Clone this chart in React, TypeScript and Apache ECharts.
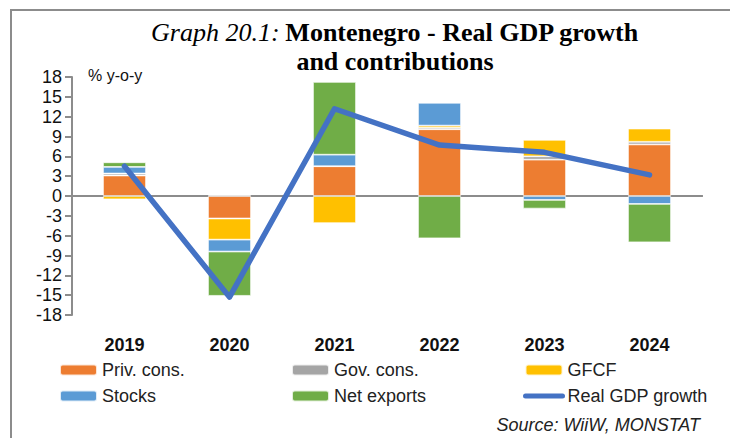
import React, { useEffect, useRef } from "react";
import * as echarts from "echarts";

const years = ["2019", "2020", "2021", "2022", "2023", "2024"];
const yTicks = { min: -18, max: 18, interval: 3 };
const privCons = [3.1, -3.4, 4.5, 10.1, 5.5, 7.8];
const govCons = [0.3, 0.1, 0.0, 0.25, 0.5, 0.4];
const gfcf = [-0.5, -3.2, -4.1, 0.3, 2.5, 2.0];
const stocks = [1.0, -1.8, 1.75, 3.45, -0.6, -1.2];
const netExports = [0.7, -6.7, 11.0, -6.4, -1.3, -5.8];
const gdpGrowth = [4.5, -15.3, 13.2, 7.7, 6.6, 3.2];

const FONT = "'Liberation Sans', Arial, sans-serif";
const SERIF = "'Liberation Serif', 'Times New Roman', serif";
const AXIS_GRAY = "#8c8c8c";

export default function App() {
  const ref = useRef<HTMLDivElement>(null);
  useEffect(() => {
    document.body.style.margin = "0";
    if (!ref.current) return;
    const chart = echarts.init(ref.current, undefined, { renderer: "svg" });
    const barBase = (name: string, data: number[], color: string) => ({
      name,
      type: "bar",
      stack: "c",
      data,
      barWidth: 43,
      itemStyle: { color, borderColor: "rgba(255,255,255,0.8)", borderWidth: 0.8 },
    });
    const legendCommon = {
      orient: "vertical",
      itemWidth: 37,
      itemHeight: 11,
      itemGap: 8,
      selectedMode: false,
      textStyle: { fontFamily: FONT, fontSize: 18, color: "#222" },
      top: 356,
    };
    chart.setOption({
      animation: false,
      backgroundColor: "#fff",
      title: {
        left: 390,
        top: 13,
        textAlign: "center",
        text: "{i|Graph 20.1:} {b|Montenegro - Real GDP growth}\n{b|and contributions}",
        textStyle: {
          rich: {
            i: { fontFamily: SERIF, fontStyle: "italic", fontWeight: "normal", fontSize: 26, color: "#000", lineHeight: 29 },
            b: { fontFamily: SERIF, fontWeight: "bold", fontSize: 26, color: "#000", lineHeight: 29 },
          },
        },
      },
      grid: { left: 72, right: 28, top: 77, bottom: 123, outerBoundsMode: "none", containLabel: false },
      legend: [
        { ...legendCommon, left: 54, data: ["Priv. cons.", "Stocks"] },
        { ...legendCommon, left: 286, data: ["Gov. cons.", "Net exports"] },
        {
          ...legendCommon,
          left: 518,
          data: [
            "GFCF",
            {
              name: "Real GDP growth",
              itemStyle: { opacity: 0 },
              lineStyle: { width: 5, cap: "round", color: "#4472C4" },
            },
          ],
        },
      ],
      xAxis: [
        {
          type: "category",
          data: years,
          position: "bottom",
          axisLine: { onZero: true, onZeroAxisIndex: 0, lineStyle: { color: AXIS_GRAY, width: 2 } },
          axisTick: { length: 6, lineStyle: { color: AXIS_GRAY, width: 2 } },
          axisLabel: {
            margin: 21,
            fontFamily: FONT,
            fontSize: 18,
            fontWeight: "bold",
            color: "#111",
          },
        },
        {
          type: "category",
          data: years,
          position: "top",
          axisLine: { onZero: true, onZeroAxisIndex: 1, lineStyle: { color: AXIS_GRAY, width: 2 } },
          axisTick: { length: 6, lineStyle: { color: AXIS_GRAY, width: 2 } },
          axisLabel: { show: false },
        },
      ],
      yAxis: [
        {
          type: "value",
          min: yTicks.min,
          max: yTicks.max,
          interval: yTicks.interval,
          name: "% y-o-y",
          nameLocation: "end",
          nameGap: 2,
          nameTextStyle: {
            fontFamily: FONT,
            fontSize: 16,
            color: "#111",
            align: "left",
            verticalAlign: "middle",
            padding: [0, 0, 0, 16],
          },
          axisLine: { show: true, lineStyle: { color: AXIS_GRAY, width: 2 } },
          axisTick: { show: true, length: 7, lineStyle: { color: AXIS_GRAY, width: 2 } },
          splitLine: { show: false },
          axisLabel: {
            margin: 10,
            fontFamily: FONT,
            fontSize: 18,
            color: "#111",
            showMinLabel: true,
            showMaxLabel: true,
            hideOverlap: false,
          },
        },
        {
          type: "value",
          min: yTicks.min,
          max: yTicks.max,
          interval: yTicks.interval,
          show: false,
          splitLine: { show: false },
        },
      ],
      graphic: [
        {
          type: "rect",
          shape: { x: 11, y: 10, width: 740, height: 450 },
          style: { fill: "none", stroke: AXIS_GRAY, lineWidth: 2 },
          silent: true,
        },
        {
          type: "text",
          right: 30,
          top: 416,
          style: {
            text: "Source: WiiW, MONSTAT",
            fontFamily: FONT,
            fontStyle: "italic",
            fontSize: 18,
            fill: "#222",
          },
        },
      ],
      series: [
        barBase("Priv. cons.", privCons, "#ED7D31"),
        barBase("Gov. cons.", govCons, "#A5A5A5"),
        barBase("GFCF", gfcf, "#FFC000"),
        barBase("Stocks", stocks, "#5B9BD5"),
        barBase("Net exports", netExports, "#70AD47"),
        {
          name: "Real GDP growth",
          type: "line",
          data: gdpGrowth,
          symbol: "none",
          color: "#4472C4",
          lineStyle: { color: "#4472C4", width: 5.5, cap: "round", join: "round" },
          z: 5,
        },
      ],
    });
    return () => chart.dispose();
  }, []);
  return <div ref={ref} style={{ width: 730, height: 438 }} />;
}
